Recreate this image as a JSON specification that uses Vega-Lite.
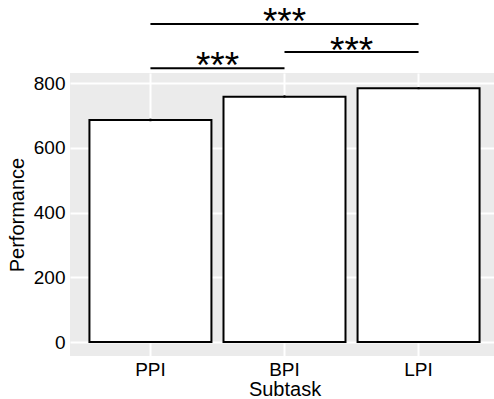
{
  "$schema": "https://vega.github.io/schema/vega-lite/v6.json",
  "autosize": "none",
  "width": 424,
  "height": 283,
  "padding": {"left": 70, "top": 73, "right": 0, "bottom": 43},
  "background": "white",
  "config": {
    "view": {"fill": "#EBEBEB", "stroke": null},
    "font": "Liberation Sans"
  },
  "datasets": {
    "bars": [
      {"Subtask": "PPI", "Performance": 686, "lo": 682, "hi": 690},
      {"Subtask": "BPI", "Performance": 758, "lo": 755, "hi": 762},
      {"Subtask": "LPI", "Performance": 784, "lo": 781, "hi": 787}
    ],
    "sig": [
      {"from": "PPI", "to": "BPI", "line": 846, "lab": 815, "mid": "PPI", "label": "***", "kind": "adjacent"},
      {"from": "BPI", "to": "LPI", "line": 896, "lab": 862, "mid": "BPI", "label": "***", "kind": "adjacent"},
      {"from": "PPI", "to": "LPI", "line": 982, "lab": 951, "mid": "BPI", "label": "***", "kind": "wide"}
    ]
  },
  "encoding": {
    "x": {
      "field": "Subtask", "type": "nominal", "sort": ["PPI", "BPI", "LPI"],
      "scale": {"domain": ["PPI", "BPI", "LPI"], "range": [0, 429], "paddingInner": 0.09, "paddingOuter": 0.145},
      "axis": {
        "title": "Subtask", "titleFontSize": 20, "titleFontWeight": "normal", "titleColor": "black", "titlePadding": 0,
        "labelFontSize": 19, "labelColor": "black", "labelPadding": 4, "labelAngle": 0,
        "ticks": false, "domain": false, "grid": true, "gridColor": "white", "gridWidth": 2, "bandPosition": 0.5
      }
    }
  },
  "layer": [
    {
      "data": {"name": "bars"},
      "mark": {"type": "bar", "fill": "white", "stroke": "black", "strokeWidth": 2},
      "encoding": {
        "y": {
          "field": "Performance", "type": "quantitative",
          "scale": {"domain": [-43, 831], "nice": false, "zero": false},
          "axis": {
            "title": "Performance", "titleFontSize": 20, "titleFontWeight": "normal", "titleColor": "black", "titlePadding": 6,
            "values": [0, 100, 200, 300, 400, 500, 600, 700, 800],
            "labelExpr": "datum.value % 200 === 0 ? datum.label : ''",
            "labelFontSize": 19, "labelColor": "black", "labelPadding": 5,
            "ticks": false, "domain": false, "grid": true, "gridColor": "white",
            "gridWidth": {"condition": {"test": "datum.value % 200 === 0", "value": 2}, "value": 1}
          }
        }
      }
    },
    {
      "data": {"name": "bars"},
      "mark": {"type": "rule", "color": "black", "strokeWidth": 2},
      "encoding": {
        "y": {"field": "lo", "type": "quantitative"},
        "y2": {"field": "hi"}
      }
    },
    {
      "data": {"name": "sig"},
      "mark": {"type": "rule", "color": "black", "strokeWidth": 2, "clip": false},
      "encoding": {
        "x": {"field": "from", "type": "nominal"},
        "x2": {"field": "to"},
        "y": {"field": "line", "type": "quantitative"}
      }
    },
    {
      "data": {"name": "sig"},
      "transform": [{"filter": "datum.kind === 'adjacent'"}],
      "mark": {"type": "text", "fontSize": 37, "baseline": "alphabetic", "align": "center", "clip": false, "color": "black"},
      "encoding": {
        "x": {"field": "mid", "type": "nominal", "bandPosition": 1.05},
        "y": {"field": "lab", "type": "quantitative"},
        "text": {"field": "label"}
      }
    },
    {
      "data": {"name": "sig"},
      "transform": [{"filter": "datum.kind === 'wide'"}],
      "mark": {"type": "text", "fontSize": 37, "baseline": "alphabetic", "align": "center", "clip": false, "color": "black"},
      "encoding": {
        "x": {"field": "mid", "type": "nominal", "bandPosition": 0.5},
        "y": {"field": "lab", "type": "quantitative"},
        "text": {"field": "label"}
      }
    }
  ]
}
